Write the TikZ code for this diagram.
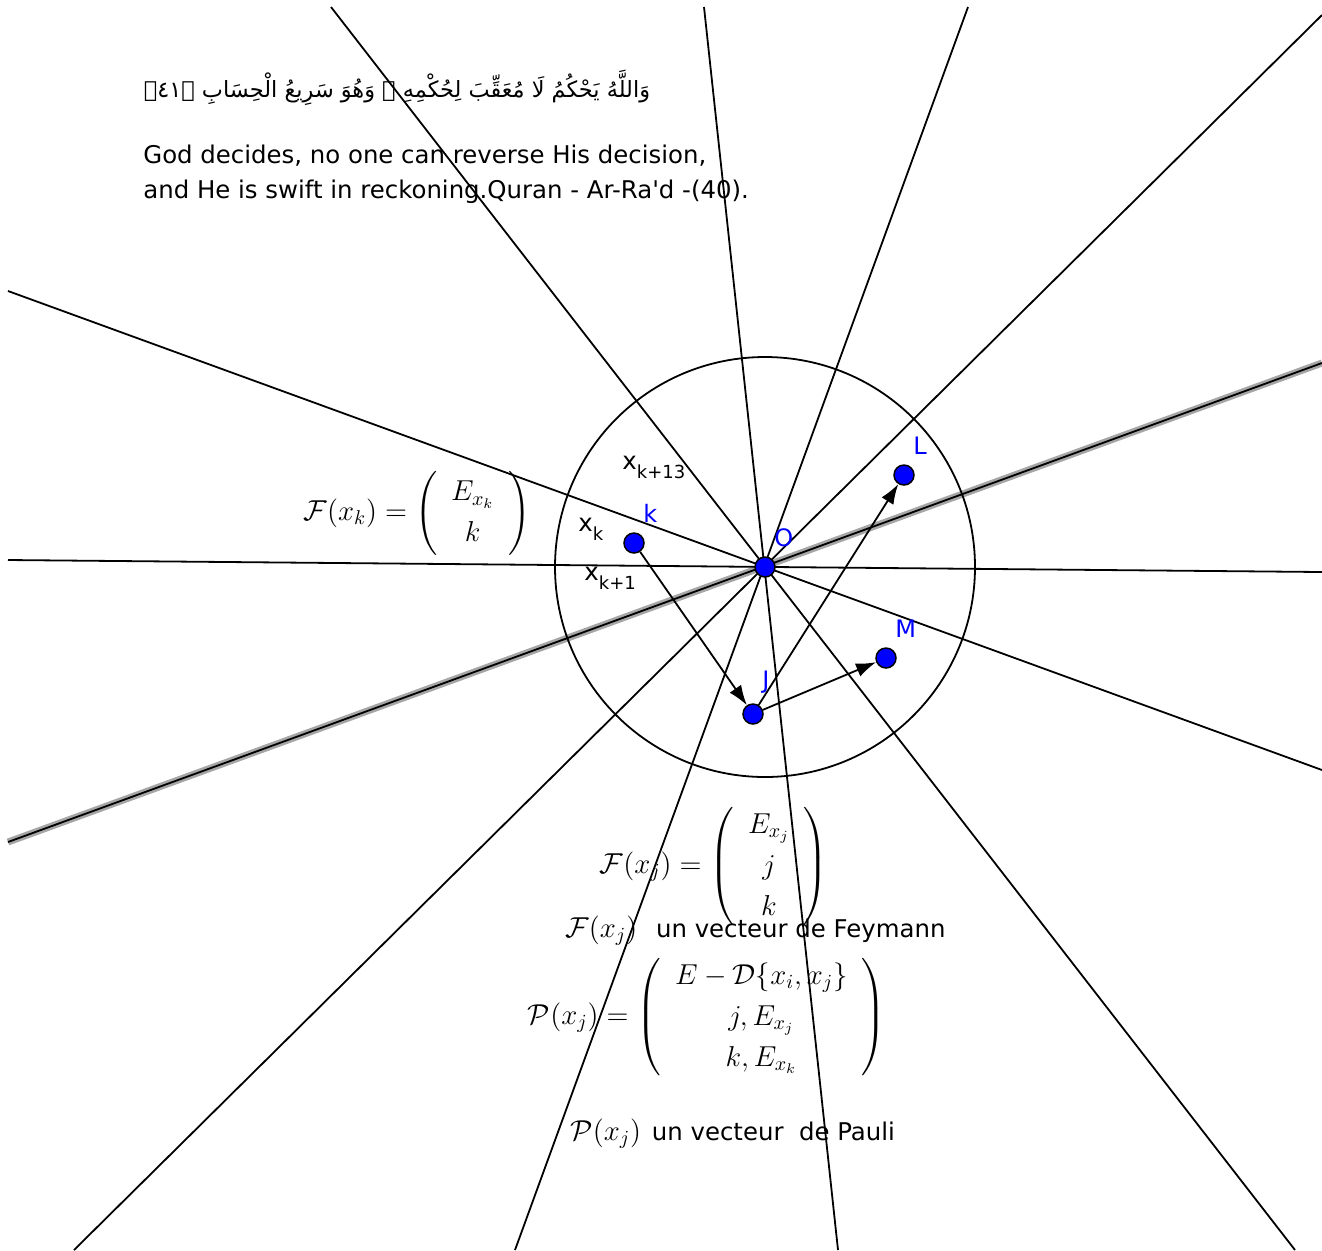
\documentclass[tikz,border=0pt]{standalone}
\usepackage{amsmath, amssymb}
\usepackage{fontspec}
\newfontfamily\dejavu{DejaVu Sans}
\newfontfamily\arabicfont[Script=Arabic]{DejaVu Sans}
\TeXXeTstate=1
\usepackage{tikz}
\usetikzlibrary{arrows.meta, positioning}
\setlength{\arraycolsep}{7pt}
\newcommand{\xsub}[1]{\raisebox{-4.5pt}{\fontsize{9}{11}\selectfont #1}}

\begin{document}
\begin{tikzpicture}[
  x=0.5pt, y=-0.5pt,
  ln/.style={draw, line width=0.9pt},
  sel/.style={draw=black!35, line width=3.5pt},
  vec/.style={draw, line width=0.9pt, -{Latex[length=10pt,width=7pt]}},
  pt/.style={circle, fill=blue, draw=black, line width=0.75pt, minimum size=10pt, inner sep=0pt},
  ptlbl/.style={font=\dejavu\fontsize{12}{14}\selectfont, text=blue, inner sep=0pt, above right=10pt and 4.5pt},
  txt/.style={font=\dejavu\fontsize{12.2}{14}\selectfont, inner sep=0pt},
  arab/.style={font=\arabicfont\fontsize{11.2}{14}\selectfont, inner sep=0pt},
  frm/.style={font=\fontsize{14}{20.5}\selectfont, inner sep=0pt}
  ]
  \useasboundingbox (0,0) rectangle (1322,1250);
  \coordinate (c) at (765,567);
  \coordinate (A1) at (331,7);
  \coordinate (B1) at (1295,1250);
  \coordinate (A2) at (704,7);
  \coordinate (B2) at (838,1250);
  \coordinate (A3) at (968,7);
  \coordinate (B3) at (515,1250);
  \coordinate (A4) at (1322,15);
  \coordinate (B4) at (74,1250);
  \coordinate (A5) at (1322,363);
  \coordinate (B5) at (8,842);
  \coordinate (A6) at (8,291);
  \coordinate (B6) at (1322,770);
  \coordinate (A7) at (8,560);
  \coordinate (B7) at (1322,572);

  % lines through O
  \draw[ln] (A1) -- (B1);
  \draw[ln] (A2) -- (B2);
  \draw[ln] (A3) -- (B3);
  \draw[ln] (A4) -- (B4);
  \draw[sel] (A5) -- (B5);
  \draw[ln] (A5) -- (B5);
  \draw[ln] (A6) -- (B6);
  \draw[ln] (A7) -- (B7);
  \draw[ln] (c) circle[radius=105pt];

  % points
  \node[pt] (O) at (c) {};
  \node[pt] (k) at (634,543) {};
  \node[pt] (L) at (904,475) {};
  \node[pt] (M) at (886,658) {};
  \node[pt] (J) at (753,714) {};
  \node[ptlbl] at (O) {O};
  \node[ptlbl] at (k) {k};
  \node[ptlbl] at (L) {L};
  \node[ptlbl] at (M) {M};
  \node[ptlbl] at (J) {J};

  % vectors
  \draw[vec] (k) -- (J);
  \draw[vec] (J) -- (M);
  \draw[vec] (J) -- (L);

  \node[txt, anchor=base west] (xk13) at (622,469) {x\xsub{k+13}};
  \node[txt, anchor=base west] (xk) at (578,531) {x\xsub{k}};
  \node[txt, anchor=base west] (xk1) at (584,580) {x\xsub{k+1}};

  % texts
  \node[arab] (ar) at (397,88) {\beginR وَاللَّهُ يَحْكُمُ لَا مُعَقِّبَ لِحُكْمِهِ ۚ وَهُوَ سَرِيعُ الْحِسَابِ ﴿٤١﴾\endR};
  \node[txt, anchor=base west] (en1) at (143,163) {God decides, no one can reverse His decision,};
  \node[txt, anchor=base west] (en2) at (143,198) {and He is swift in reckoning.Quran - Ar-Ra'd -(40).};

  \node[frm] (Fk) at (417,513) {$\mathcal{F}(x_k) = \left(\begin{array}{c} E_{x_k}\\ k \end{array}\right)$};
  \node[frm] (Fj) at (714,866) {$\mathcal{F}(x_j) = \left(\begin{array}{c} E_{x_j}\\ j\\ k \end{array}\right)$};
  \node[frm, anchor=base west] (Fjl) at (565,937) {$\mathcal{F}(x_j)$};
  \node[txt, base right=9pt of Fjl] (Fjt) {un vecteur de Feymann};
  \node[frm] (Pj) at (707,1017) {$\mathcal{P}(x_j) = \left(\begin{array}{c} E-\mathcal{D}\{x_i,x_j\}\\ j,E_{x_j}\\ k,E_{x_k} \end{array}\right)$};
  \node[frm, anchor=base west] (Pjl) at (570,1140) {$\mathcal{P}(x_j)$};
  \node[txt, base right=5pt of Pjl] (Pjt) {un vecteur\ \ de Pauli};
\end{tikzpicture}
\end{document}
